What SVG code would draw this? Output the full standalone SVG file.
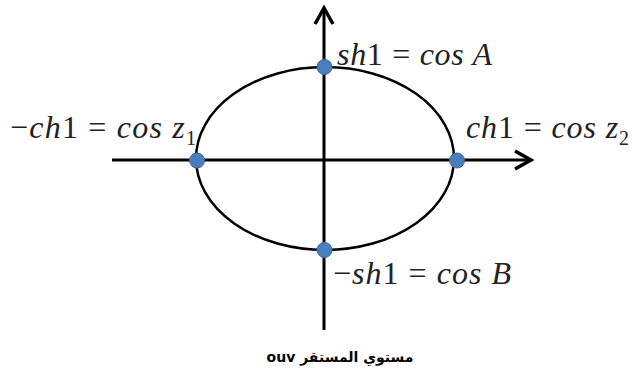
<svg xmlns="http://www.w3.org/2000/svg" width="632" height="373" viewBox="0 0 632 373">
<style>
.ax{stroke:#000;stroke-width:3;fill:none}
.head{stroke:#000;stroke-width:3.5;fill:none;stroke-linecap:butt;stroke-linejoin:miter}
.ell{stroke:#000;stroke-width:2.5;fill:none}
.dot{fill:#4a7ebb;stroke:#3a69a3;stroke-width:1}
.m{font-family:"Liberation Serif","DejaVu Serif",serif;font-size:32px;fill:#222}
.i{font-style:italic}
.cap{font-family:"DejaVu Sans","Noto Sans",sans-serif;font-weight:bold;font-size:14px;fill:#000}
</style>
<rect width="632" height="373" fill="#fff"/>
<g id="ellipse"><ellipse class="ell" cx="325" cy="158.5" rx="129" ry="91.5"/></g>
<g id="connectors">
<line class="ax" x1="324" y1="330" x2="324" y2="8"/>
<polyline class="head" points="315,24 324,8 333,24"/>
<line class="ax" x1="112" y1="160" x2="530" y2="160"/>
<polyline class="head" points="515,151 531,160 515,169"/>
</g>
<g id="pointA"><circle class="dot" cx="324.5" cy="67" r="7.5"/><text class="m" x="337" y="65" textLength="155"><tspan class="i">sh</tspan>1 = <tspan class="i">cos A</tspan></text></g>
<g id="pointB"><circle class="dot" cx="324.5" cy="250" r="7.5"/><text class="m" x="333" y="284" textLength="178">−<tspan class="i">sh</tspan>1 = <tspan class="i">cos B</tspan></text></g>
<g id="pointZ1"><circle class="dot" cx="197" cy="160.5" r="7.5"/><text class="m" x="10" y="138" textLength="186">−<tspan class="i">ch</tspan>1 = <tspan class="i">cos z</tspan><tspan font-size="20" dy="7">1</tspan></text></g>
<g id="pointZ2"><circle class="dot" cx="457" cy="160.5" r="7.5"/><text class="m" x="466" y="138" textLength="163"><tspan class="i">ch</tspan>1 = <tspan class="i">cos z</tspan><tspan font-size="20" dy="7">2</tspan></text></g>
<g id="caption"><text class="cap" x="340" y="362" text-anchor="middle">ouv مستوي المستقر</text></g>
</svg>
